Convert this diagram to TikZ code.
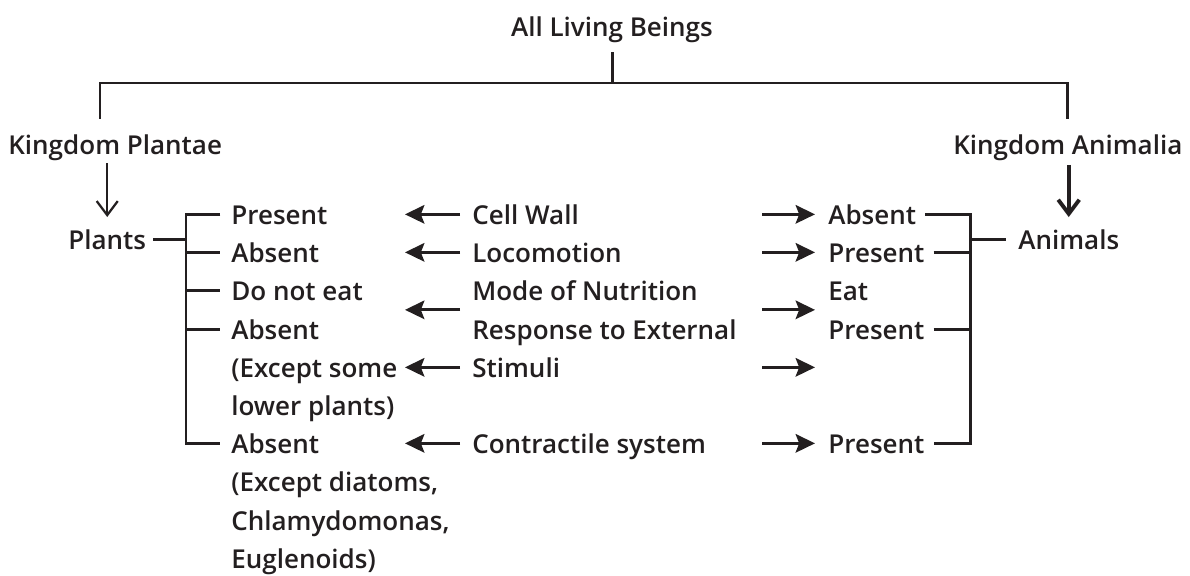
\documentclass[tikz,border=0pt]{standalone}
\usepackage{fontspec}
\IfFontExistsTF{Open Sans SemiBold}{\setmainfont{Open Sans SemiBold}}{%
  \IfFontExistsTF{Open Sans Semibold}{\setmainfont{Open Sans Semibold}}{\setmainfont{Open Sans}}}
\usetikzlibrary{arrows.meta,calc}
\definecolor{ink}{HTML}{231F20}
\tikzset{
  lbl/.style={anchor=base west,inner sep=0pt,text height=13pt,text depth=2pt,
    font=\fontsize{14.8}{18}\selectfont,text=ink},
  ln/.style={draw=ink,line width=1.7pt},
  larr/.style={ln,-{Stealth[length=11pt,width=10.5pt,inset=2pt]}},
  down/.style={ln,-{Straight Barb[length=8pt,width=12pt]}},
}

\begin{document}
\begin{tikzpicture}[x=0.02cm,y=-0.02cm]
\fill[white] (0,0) rectangle (1190,575);
\useasboundingbox (0,0) rectangle (1190,575);

\node[lbl,anchor=base] (title) at (612,36) {All Living Beings};
\node[lbl] (kp) at (8,154) {Kingdom Plantae};
\node[lbl] (ka) at (953,154) {Kingdom Animalia};
\node[lbl] (plants) at (68,249) {Plants};
\node[lbl] (animals) at (1018,249) {Animals};

\node[lbl] (pcw) at (231,224) {Present};
\node[lbl] (ploc) at (231,262) {Absent};
\node[lbl] (pnut) at (231,300) {Do not eat};
\node[lbl] (pres) at (231,339) {Absent};
\node[lbl] (pres2) at (231,377) {(Except some};
\node[lbl] (pres3) at (231,415) {lower plants)};
\node[lbl] (pcon) at (231,453) {Absent};
\node[lbl] (pcon2) at (231,491) {(Except diatoms,};
\node[lbl] (pcon3) at (231,530) {Chlamydomonas,};
\node[lbl] (pcon4) at (231,568) {Euglenoids)};

\node[lbl] (cw) at (472,224) {Cell Wall};
\node[lbl] (loc) at (472,262) {Locomotion};
\node[lbl] (nut) at (472,300) {Mode of Nutrition};
\node[lbl] (res) at (472,339) {Response to External};
\node[lbl] (res2) at (472,377) {Stimuli};
\node[lbl] (con) at (472,453) {Contractile system};

\node[lbl] (acw) at (828,224) {Absent};
\node[lbl] (aloc) at (828,262) {Present};
\node[lbl] (anut) at (828,300) {Eat};
\node[lbl] (ares) at (828,339) {Present};
\node[lbl] (acon) at (828,453) {Present};

\coordinate (lc) at (100,83);
\coordinate (rc) at (1067,83);
\draw[ln] ([yshift=-7pt]title.south) -- (title.south |- lc);
\draw[ln] ([yshift=7pt]kp.north -| lc) -- (lc) -- (rc) -- ([yshift=7pt]ka.north -| rc);
\draw[down,line width=1.3pt] ([yshift=-3pt]kp.south -| plants.north) -- ([yshift=5pt]plants.north);
\draw[down,line width=2.2pt] ([yshift=-4pt]ka.south -| animals.north) -- ([yshift=5pt]animals.north);

\coordinate (lb) at (186,0);
\draw[ln] ([xshift=4pt]plants.east) -- (lb |- plants.east);
\draw[ln] ([xshift=-6pt]pcw.west) -| (lb |- pcon.west) -- ([xshift=-6pt]pcon.west);
\foreach \n in {ploc,pnut,pres}
  \draw[ln] (lb |- \n.west) -- ([xshift=-6pt]\n.west);

\coordinate (rb) at (970,0);
\draw[ln] ([xshift=5pt]acw.east) -| (rb |- acon.east) -- ([xshift=5pt]acon.east);
\foreach \n in {aloc,ares}
  \draw[ln] ([xshift=5pt]\n.east) -- (rb |- \n.east);
\draw[ln] (rb |- animals.west) -- ([xshift=-7pt]animals.west);

\coordinate (lax) at (460,0);
\coordinate (rax) at (762,0);
\coordinate (mid) at ($(nut.west)!.5!(res.west)$);
\foreach \n in {cw,loc,mid,res2,con} {
  \draw[larr] (lax |- \n.west) -- ++(-55,0);
  \draw[larr] (rax |- \n.west) -- ++(53,0);
}
\end{tikzpicture}
\end{document}
